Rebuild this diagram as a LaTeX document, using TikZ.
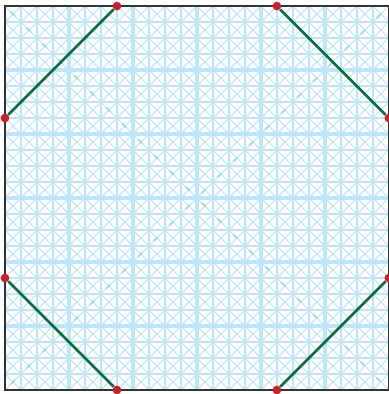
\documentclass[tikz,border=0pt]{standalone}
\usepackage{tikz}
\definecolor{gridblue}{RGB}{190,230,250}
\definecolor{markblue}{RGB}{165,214,240}
\definecolor{cutgreen}{RGB}{12,110,62}
\definecolor{dotred}{RGB}{200,32,44}
\tikzset{
  cutdot/.style={circle, fill=dotred, inner sep=0pt, minimum size=6.2pt},
  cutline/.style={cutgreen, line width=1.9pt}
}

\begin{document}
\begin{tikzpicture}[x=0.4cm, y=0.4cm]

\useasboundingbox (-0.31,-0.25) rectangle (24,24.38);

% thin cell diagonals
\foreach \x in {0,...,23} {\foreach \y in {0,...,23} {\draw [gridblue, line width=0.75pt] (\x,\y) -- (\x+1,\y+1) (\x+1,\y) -- (\x,\y+1);}}

% grid lines
\foreach \x in {1,...,23} {\draw [gridblue, line width=1.5pt] (\x,0) -- (\x,24) (0,\x) -- (24,\x);}
\foreach \x in {4,8,...,20} {\draw [gridblue, line width=2.3pt] (\x,0) -- (\x,24) (0,\x) -- (24,\x);}

% faint marks along the big diagonals
\draw [markblue, line width=1.2pt, dash pattern=on 4pt off 12pt, dash phase=-6pt] (0,0) -- (24,24) (0,24) -- (24,0);

\draw [black!80, line width=1.7pt] (0,0) rectangle (24,24);

\node [cutdot] (t1) at (7,24) {};
\node [cutdot] (t2) at (17,24) {};
\node [cutdot] (l1) at (0,17) {};
\node [cutdot] (l2) at (0,7) {};
\node [cutdot] (r1) at (24,17) {};
\node [cutdot] (r2) at (24,7) {};
\node [cutdot] (b1) at (7,0) {};
\node [cutdot] (b2) at (17,0) {};

\draw [cutline] (t1) -- (l1);
\draw [cutline] (t2) -- (r1);
\draw [cutline] (l2) -- (b1);
\draw [cutline] (b2) -- (r2);

\end{tikzpicture}
\end{document}
